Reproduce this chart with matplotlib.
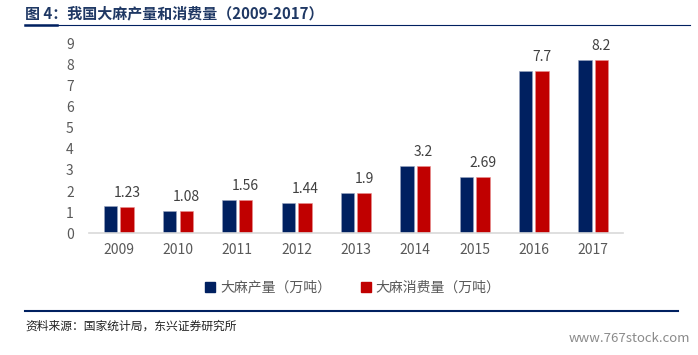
import numpy as np
import matplotlib.pyplot as plt
from matplotlib.lines import Line2D

plt.rcParams['font.family'] = ['Noto Sans CJK SC', 'DejaVu Sans']

years = ['2009', '2010', '2011', '2012', '2013', '2014', '2015', '2016', '2017']
production = [1.30, 1.08, 1.56, 1.44, 1.9, 3.2, 2.69, 7.7, 8.2]      # 大麻产量(万吨)
consumption = [1.23, 1.08, 1.56, 1.44, 1.9, 3.2, 2.69, 7.7, 8.2]     # 大麻消费量(万吨)
labels = ['1.23', '1.08', '1.56', '1.44', '1.9', '3.2', '2.69', '7.7', '8.2']

navy = '#002060'
red = '#C00000'
grey = '#595959'

fig = plt.figure(figsize=(6.98, 3.55), dpi=100)
ax = fig.add_axes([0.1275, 0.3428, 0.765, 0.535])

x = np.arange(len(years))
w = 0.225
ax.bar(x - 0.138, production, w, color=navy, edgecolor='#9aa6c0', linewidth=0.4)
ax.bar(x + 0.138, consumption, w, color=red, edgecolor='#e89090', linewidth=0.4)

for xi, v, s in zip(x, consumption, labels):
    ax.annotate(s, (xi + 0.138, v), xytext=(0, 5), textcoords='offset points',
                ha='center', va='bottom', fontsize=10, color='#404040')

ax.set_xlim(-0.5, 8.5)
ax.set_ylim(0, 9)
ax.set_yticks(range(10))
ax.set_xticks(x)
ax.set_xticklabels(years)
ax.tick_params(axis='both', length=0, labelsize=10, colors=grey)
ax.tick_params(axis='x', pad=7)
ax.tick_params(axis='y', pad=11)
for sp in ['top', 'right', 'left']:
    ax.spines[sp].set_visible(False)
ax.spines['bottom'].set_color('#d9d9d9')
ax.spines['bottom'].set_linewidth(1.2)

handles = [Line2D([], [], marker='s', linestyle='none', markersize=7, color=navy),
           Line2D([], [], marker='s', linestyle='none', markersize=7, color=red)]
fig.legend(handles, ['大麻产量（万吨）', '大麻消费量（万吨）'], loc='center',
           bbox_to_anchor=(0.502, 0.19), ncol=2, frameon=False, fontsize=10,
           labelcolor=grey, handletextpad=0.0, handlelength=1.4, columnspacing=1.8)

# title and rules
fig.text(25 / 698, 1 - 13 / 355, '图 4：我国大麻产量和消费量（2009-2017）', fontsize=10.8,
         fontweight='bold', color='#1F3864', ha='left', va='center')
fig.add_artist(Line2D([25 / 698, 690 / 698], [1 - 24.5 / 355] * 2, color=navy, linewidth=0.8))
fig.add_artist(Line2D([25 / 698, 57 / 698], [1 - 24.5 / 355] * 2, color=navy, linewidth=1.8))
fig.add_artist(Line2D([25 / 698, 678 / 698], [1 - 311 / 355] * 2, color=navy, linewidth=1.5))

fig.text(25 / 698, 1 - 326 / 355, '资料来源：国家统计局，东兴证券研究所', fontsize=8.5,
         style='italic', color='#222222', ha='left', va='center')
fig.text(690 / 698, 1 - 338 / 355, 'www.767stock.com', fontsize=9.5,
         color='#8a8a8a', ha='right', va='center')

fig.savefig('out.png', dpi=100)
